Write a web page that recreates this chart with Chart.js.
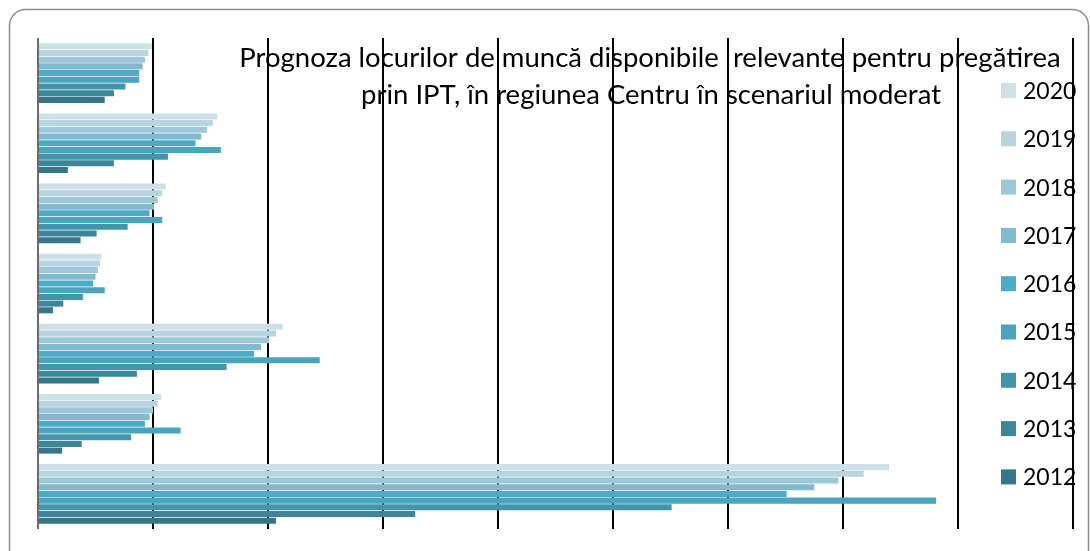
<!DOCTYPE html>
<html>
<head>
<meta charset="utf-8">
<script src="https://cdn.jsdelivr.net/npm/chart.js@4/dist/chart.umd.min.js"></script>
<style>
    body { margin: 0; background: #fff; }
    #wrap { width: 1090px; height: 551px; }
</style>
</head>
<body>
<div id="wrap"><canvas id="jobsChart" width="1090" height="551"></canvas></div>
<script>
// categorii (etichetele nu apar in imagine)
const categories = ['Grupa 1', 'Grupa 2', 'Grupa 3', 'Grupa 4', 'Grupa 5', 'Grupa 6', 'Grupa 7'];

const years = ['2020', '2019', '2018', '2017', '2016', '2015', '2014', '2013', '2012'];

const values2020 = [99, 156, 111, 55, 213, 107, 740];
const values2019 = [96, 152, 108, 54, 207, 104, 718];
const values2018 = [93, 147, 104, 52, 201, 100, 696];
const values2017 = [91, 142, 101, 50, 194, 97, 675];
const values2016 = [88, 137, 97, 48, 188, 93, 651];
const values2015 = [88, 159, 108, 58, 245, 124, 781];
const values2014 = [76, 113, 78, 39, 164, 81, 551];
const values2013 = [66, 66, 51, 22, 86, 38, 328];
const values2012 = [58, 26, 37, 13, 53, 21, 207];

const titleLines = [
    'Prognoza locurilor de muncă disponibile  relevante pentru pregătirea',
    'prin IPT, în regiunea Centru în scenariul moderat'
];

const seriesValues = [values2020, values2019, values2018, values2017, values2016,
    values2015, values2014, values2013, values2012];

const colors = ['#cde0e8', '#b7d4df', '#9cc8d8', '#7fbad0', '#4bacc6',
    '#49a4bd', '#4394ab', '#3d8699', '#357688'];

const FONT = 'Lato, "Open Sans", sans-serif';

// cadru, titlu si legenda desenate inaintea grilei (liniile trec peste text)
const backgroundPlugin = {
    id: 'backgroundPlugin',
    beforeDraw(chart) {
        const ctx = chart.ctx;
        ctx.save();

        ctx.strokeStyle = '#8c8c8c';
        ctx.lineWidth = 1.5;
        ctx.beginPath();
        ctx.roundRect(9.5, 9.5, 1079, 560, 16);
        ctx.stroke();

        ctx.fillStyle = '#000';
        ctx.font = '27.5px ' + FONT;
        ctx.textAlign = 'center';
        ctx.textBaseline = 'middle';
        ctx.fillText(titleLines[0], 650, 58);
        ctx.fillText(titleLines[1], 651, 95);

        ctx.font = '23px ' + FONT;
        ctx.textAlign = 'left';
        chart.data.datasets.forEach((ds, i) => {
            const y = 90.5 + i * 48.3;
            ctx.fillStyle = ds.backgroundColor;
            ctx.fillRect(1001, y - 7.5, 15, 15);
            ctx.fillStyle = '#000';
            ctx.fillText(ds.label, 1023, y + 1);
        });

        ctx.restore();
    }
};

function initChart() {
    const ctx = document.getElementById('jobsChart').getContext('2d');

    new Chart(ctx, {
        type: 'bar',
        data: {
            labels: categories,
            datasets: years.map((year, i) => ({
                label: year,
                data: seriesValues[i],
                backgroundColor: colors[i],
                borderWidth: 0
            }))
        },
        options: {
            indexAxis: 'y',
            responsive: false,
            animation: false,
            layout: {
                padding: { left: 38, top: 38, right: 17, bottom: 22 }
            },
            datasets: {
                bar: {
                    barPercentage: 0.9,
                    categoryPercentage: 0.86
                }
            },
            scales: {
                x: {
                    min: 0,
                    max: 900,
                    ticks: { display: false, stepSize: 100 },
                    grid: {
                        drawTicks: false,
                        lineWidth: 2,
                        color: c => c.index === 0 ? '#6b6b6b' : '#000'
                    },
                    border: { display: false }
                },
                y: {
                    ticks: { display: false },
                    grid: { display: false, drawTicks: false },
                    border: { display: false }
                }
            },
            plugins: {
                legend: { display: false },
                title: { display: false },
                tooltip: { enabled: false }
            }
        },
        plugins: [backgroundPlugin]
    });
}

document.addEventListener('DOMContentLoaded', initChart);
</script>
</body>
</html>
